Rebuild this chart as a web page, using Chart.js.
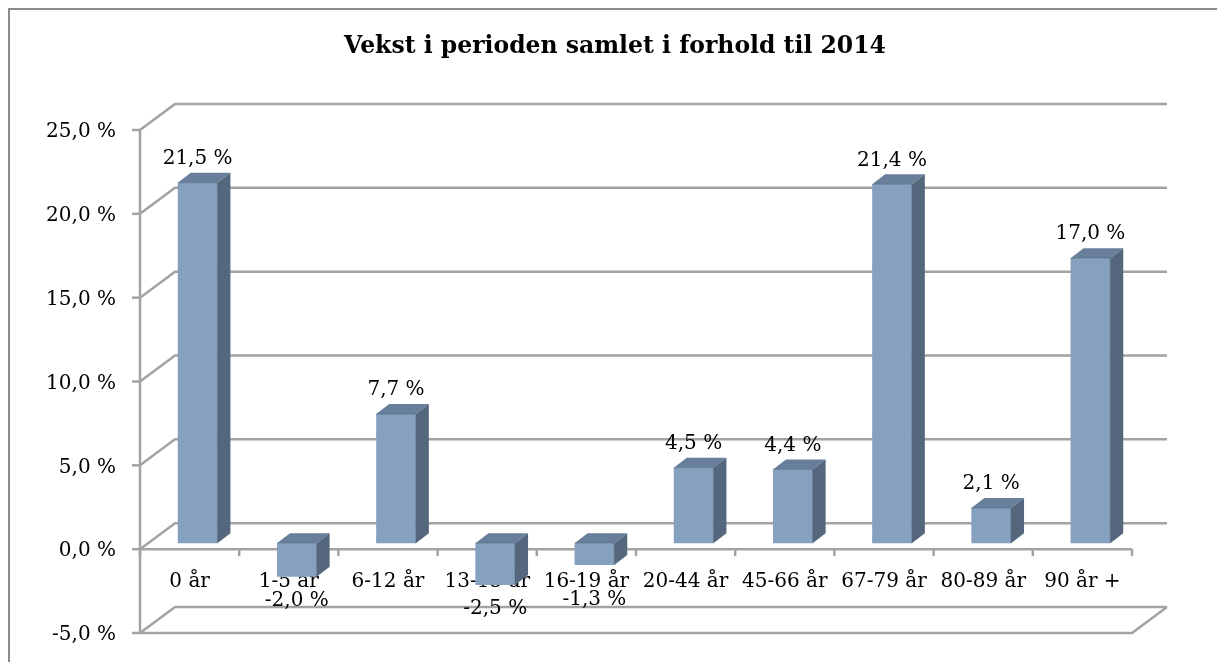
<!DOCTYPE html>
<html lang="no">
<head>
  <meta charset="UTF-8">
  <title>Vekst i perioden samlet i forhold til 2014</title>
  <script src="https://cdn.jsdelivr.net/npm/chart.js"></script>
  <style>
    body { margin: 0; padding: 0; background: #fff; overflow: hidden; }
    canvas { display: block; }
  </style>
</head>
<body>
  <canvas id="growth-chart" width="1217" height="662"></canvas>

  <script>
    // Data
    const categories = ['0 år', '1-5 år', '6-12 år', '13-15 år', '16-19 år', '20-44 år', '45-66 år', '67-79 år', '80-89 år', '90 år +'];
    const growth = [21.5, -2.0, 7.7, -2.5, -1.3, 4.5, 4.4, 21.4, 2.1, 17.0];
    const yTicks = [-5, 0, 5, 10, 15, 20, 25];
    const chartTitle = 'Vekst i perioden samlet i forhold til 2014';

    const serif = '"DejaVu Serif", "Liberation Serif", serif';
    const gridColor = '#a3a3a3';

    // 3D look: offsets of the front plane and the back wall relative to the bar plane
    const FRONT_DX = -8, FRONT_DY = 6;   // bar plane -> front plane
    const WALL_DX = 35, WALL_DY = -26;   // front plane -> back wall
    const BAR_DX = 13, BAR_DY = -10;     // depth of each bar

    function pct(v) {
      return v.toFixed(1).replace('.', ',') + ' %';
    }

    function line(ctx, pts) {
      ctx.beginPath();
      ctx.moveTo(pts[0][0], pts[0][1]);
      for (let i = 1; i < pts.length; i++) ctx.lineTo(pts[i][0], pts[i][1]);
      ctx.stroke();
    }

    function poly(ctx, pts, fill) {
      ctx.beginPath();
      ctx.moveTo(pts[0][0], pts[0][1]);
      for (let i = 1; i < pts.length; i++) ctx.lineTo(pts[i][0], pts[i][1]);
      ctx.closePath();
      ctx.fillStyle = fill;
      ctx.fill();
    }

    const threeD = {
      id: 'threeD',
      beforeDraw(chart) {
        const ctx = chart.ctx;
        ctx.save();
        ctx.fillStyle = '#fff';
        ctx.fillRect(0, 0, chart.width, chart.height);
        // outer frame: right and bottom edges fall outside the picture
        ctx.strokeStyle = '#8c8c8c';
        ctx.lineWidth = 2;
        ctx.strokeRect(9, 9, chart.width + 40, chart.height + 40);
        // title
        ctx.fillStyle = '#000';
        ctx.font = 'bold 23.5px ' + serif;
        ctx.textAlign = 'center';
        ctx.textBaseline = 'middle';
        ctx.fillText(chartTitle, 615, 47);
        ctx.restore();
      },
      beforeDatasetsDraw(chart) {
        const ctx = chart.ctx;
        const xs = chart.scales.x, ys = chart.scales.y;
        const fl = xs.left + FRONT_DX, fr = xs.right + FRONT_DX;
        const yF = v => ys.getPixelForValue(v) + FRONT_DY;
        const lo = yTicks[0], hi = yTicks[yTicks.length - 1];

        ctx.save();
        ctx.strokeStyle = gridColor;
        ctx.lineWidth = 2.5;

        // side wall diagonals + back wall gridlines
        yTicks.forEach(v => {
          const y = yF(v);
          line(ctx, [[fl, y], [fl + WALL_DX, y + WALL_DY], [fr + WALL_DX, y + WALL_DY]]);
          // tick mark on the value axis
          line(ctx, [[fl - 8, y], [fl, y]]);
        });

        // value axis
        line(ctx, [[fl, yF(hi)], [fl, yF(lo)]]);

        // floor at the bottom
        line(ctx, [[fl, yF(lo)], [fr, yF(lo)], [fr + WALL_DX, yF(lo) + WALL_DY]]);

        // category axis at zero with tick marks
        const y0 = yF(0);
        line(ctx, [[fl, y0], [fr, y0]]);
        for (let i = 0; i <= categories.length; i++) {
          const x = fl + i * (fr - fl) / categories.length;
          line(ctx, [[x, y0], [x, y0 + 7]]);
        }
        ctx.restore();
      },
      afterDatasetsDraw(chart) {
        const ctx = chart.ctx;
        const meta = chart.getDatasetMeta(0);
        const zeroPx = chart.scales.y.getPixelForValue(0);
        ctx.save();
        meta.data.forEach((bar, i) => {
          const p = bar.getProps(['x', 'y', 'base', 'width'], true);
          const l = p.x - p.width / 2, r = p.x + p.width / 2;
          const top = Math.min(p.y, p.base), bottom = Math.max(p.y, p.base);

          // top face
          poly(ctx, [[l, top], [r, top], [r + BAR_DX, top + BAR_DY], [l + BAR_DX, top + BAR_DY]], '#687f9b');
          // side face
          poly(ctx, [[r, top], [r + BAR_DX, top + BAR_DY], [r + BAR_DX, bottom + BAR_DY], [r, bottom]], '#55677d');
          ctx.strokeStyle = 'rgba(70,90,115,0.6)';
          ctx.lineWidth = 0.8;
          line(ctx, [[l, top], [r, top], [r, bottom]]);

          // value label (negative ones kept clear of the category labels)
          const v = growth[i];
          ctx.fillStyle = '#000';
          ctx.font = '20px ' + serif;
          ctx.textAlign = 'center';
          ctx.textBaseline = 'middle';
          const ly = v >= 0 ? p.y - 24 : Math.max(p.y + 24, zeroPx + 57);
          ctx.fillText(pct(v), p.x, ly);
        });
        ctx.restore();
      }
    };

    new Chart(document.getElementById('growth-chart'), {
      type: 'bar',
      data: {
        labels: categories,
        datasets: [{
          data: growth,
          backgroundColor: '#86a0bf',
          borderWidth: 0,
          categoryPercentage: 1.0,
          barPercentage: 0.4
        }]
      },
      options: {
        responsive: false,
        animation: false,
        devicePixelRatio: 1,
        layout: { padding: { left: 0, top: 124, right: 77, bottom: 35 } },
        plugins: {
          legend: { display: false },
          tooltip: { enabled: false },
          title: { display: false }
        },
        scales: {
          x: {
            position: { y: 0 },
            z: 1,
            grid: { display: false, drawTicks: false },
            border: { display: false },
            ticks: {
              color: '#000',
              font: { family: serif, size: 20 },
              padding: 27,
              labelOffset: FRONT_DX,
              maxRotation: 0,
              autoSkip: false
            }
          },
          y: {
            min: yTicks[0],
            max: yTicks[yTicks.length - 1],
            // tick length (not drawn) keeps the labels away from the axis
            grid: { display: false, drawTicks: true, tickLength: 28 },
            border: { display: false },
            afterFit(scale) { scale.width = 148; },
            afterBuildTicks(scale) { scale.ticks = yTicks.map(v => ({ value: v })); },
            ticks: {
              color: '#000',
              font: { family: serif, size: 20 },
              padding: 4,
              labelOffset: FRONT_DY + 2,
              callback: v => pct(v)
            }
          }
        }
      },
      plugins: [threeD]
    });
  </script>
</body>
</html>
